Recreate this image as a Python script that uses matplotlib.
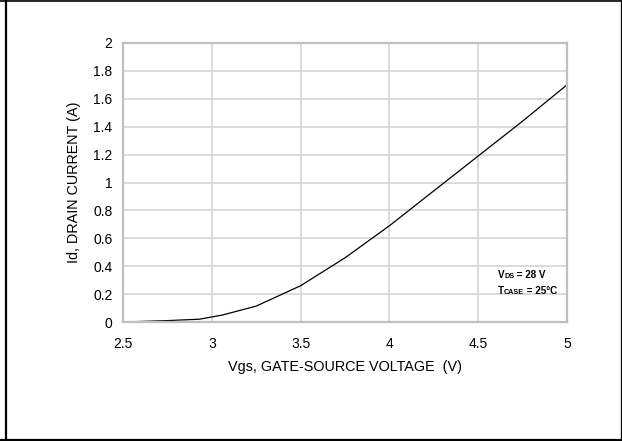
import matplotlib
matplotlib.use("Agg")
import matplotlib.pyplot as plt
from matplotlib.lines import Line2D
from matplotlib.offsetbox import TextArea, HPacker, VPacker, AnnotationBbox

plt.rcParams['font.family'] = ['Liberation Sans', 'DejaVu Sans']

vgs = [2.5, 2.75, 2.93, 3.06, 3.25, 3.5, 3.75, 4.0, 4.25, 4.5, 4.75, 5.0]
id_a = [0.0, 0.01, 0.02, 0.05, 0.114, 0.26, 0.46, 0.69, 0.94, 1.19, 1.44, 1.70]
xticks = [2.5, 3, 3.5, 4, 4.5, 5]
xticklabels = ['2.5', '3', '3.5', '4', '4.5', '5']
yticks = [0, 0.2, 0.4, 0.6, 0.8, 1, 1.2, 1.4, 1.6, 1.8, 2]
yticklabels = ['0', '0.2', '0.4', '0.6', '0.8', '1', '1.2', '1.4', '1.6', '1.8', '2']

fig = plt.figure(figsize=(6.22, 4.41), dpi=100)
ax = fig.add_axes([123/622, (441-322)/441, (567-123)/622, (322-43)/441])

ax.plot(vgs, id_a, color='black', lw=0.9)
ax.set_xlim(2.5, 5)
ax.set_ylim(0, 2)
ax.set_xticks(xticks)
ax.set_xticklabels(xticklabels)
ax.set_yticks(yticks)
ax.set_yticklabels(yticklabels)
ax.tick_params(length=0, labelsize=10, colors='black')
ax.tick_params(axis='x', pad=11)
ax.tick_params(axis='y', pad=7.5)
ax.grid(True, color='#d4d4d4', lw=1.2)
ax.set_axisbelow(True)
for s in ax.spines.values():
    s.set_color('#bfbfbf')
    s.set_linewidth(1.6)

ax.set_xlabel('Vgs, GATE-SOURCE VOLTAGE  (V)', fontsize=10.4, labelpad=6)
ax.set_ylabel('Id, DRAIN CURRENT (A)', fontsize=10.4, labelpad=9)

big = dict(fontsize=7.1, fontweight='bold', color='black')
small = dict(fontsize=5.2, fontweight='bold', color='black')
row1 = HPacker(children=[TextArea('V', textprops=big), TextArea('DS', textprops=small),
                         TextArea(' = 28 V', textprops=big)], align='baseline', pad=0, sep=0)
row2 = HPacker(children=[TextArea('T', textprops=big), TextArea('CASE', textprops=small),
                         TextArea(' = 25°C', textprops=big)], align='baseline', pad=0, sep=0)
box = VPacker(children=[row1, row2], align='left', pad=0, sep=4)
ab = AnnotationBbox(box, (4.61, 0.28), xycoords='data', box_alignment=(0.0, 0.5),
                    frameon=False, pad=0)
ax.add_artist(ab)

# figure border
fig.add_artist(Line2D([5.5/622, 5.5/622], [0, 1], transform=fig.transFigure, color='black', lw=1.6))
fig.add_artist(Line2D([0, 1], [1-0.8/441, 1-0.8/441], transform=fig.transFigure, color='black', lw=1.2))
fig.add_artist(Line2D([0, 1], [1.2/441, 1.2/441], transform=fig.transFigure, color='black', lw=1.6))
fig.add_artist(Line2D([1-0.6/622, 1-0.6/622], [0, 1], transform=fig.transFigure, color='black', lw=0.9))

fig.savefig('out.png', dpi=100)
